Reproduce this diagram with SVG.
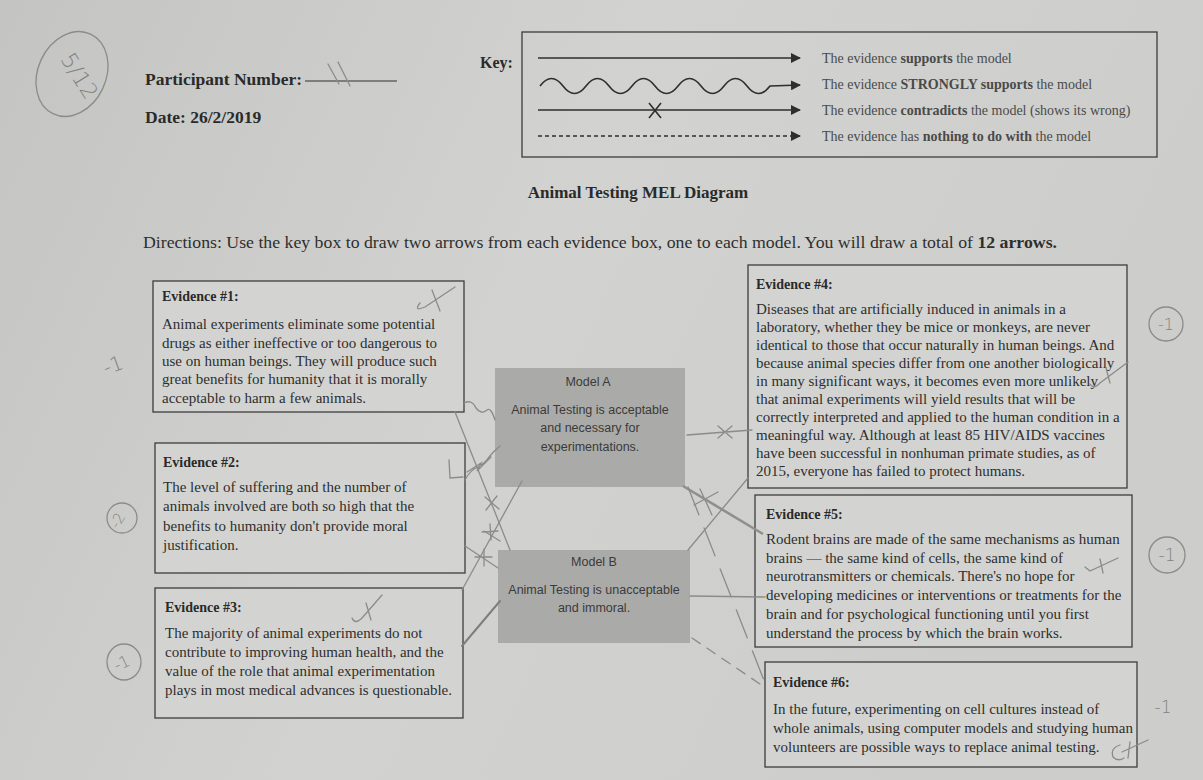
<svg xmlns="http://www.w3.org/2000/svg" width="1203" height="780" viewBox="0 0 1203 780">
<defs>
<linearGradient id="paper" x1="0" y1="0" x2="1" y2="0.3">
<stop offset="0" stop-color="#c4c5c2"/>
<stop offset="0.5" stop-color="#d2d3d0"/>
<stop offset="1" stop-color="#cdcecb"/>
</linearGradient>
<marker id="ah" viewBox="0 0 10 10" refX="9" refY="5" markerWidth="10" markerHeight="10" markerUnits="userSpaceOnUse" orient="auto">
<path d="M0,0 L10,5 L0,10 Z" fill="#2e2e2e"/>
</marker>
<style>
.hd{font-family:"Liberation Serif","Times New Roman",serif;font-weight:bold;fill:#2a2a2a}
.ser{font-family:"Liberation Serif","Times New Roman",serif;fill:#2e2e2e}
.key{font-family:"Liberation Serif","Times New Roman",serif;font-size:14px;fill:#4a4a4a}
.b{font-weight:bold}
.box{fill:#d3d4d1;stroke:#3c3c3c;stroke-width:1.3}
.et{font-family:"Liberation Serif","Times New Roman",serif;font-weight:bold;font-size:14px;fill:#2a2a2a}
.eb{font-family:"Liberation Serif","Times New Roman",serif;font-size:15px;fill:#2e2e2e}
.model{fill:#aaaba8}
.mt{font-family:"Liberation Sans",Arial,sans-serif;font-size:12.5px;fill:#3a3a3a;text-anchor:middle}
.kl{stroke:#2e2e2e;stroke-width:1.6;fill:none}
.pen{stroke:#8b8c8a;stroke-width:1.3;fill:none;stroke-linecap:round}
.pend{stroke:#7e7f7d;stroke-width:2;fill:none;stroke-linecap:round}
.hw{font-family:"DejaVu Sans",sans-serif;font-weight:200;fill:#808180}
</style>
</defs>
<rect width="1203" height="780" fill="url(#paper)"/>

<g id="header">
<ellipse cx="72" cy="74" rx="34" ry="44" transform="rotate(25 72 74)" class="pen"/>
<text class="hw" font-size="22" transform="translate(73 80) rotate(58)" text-anchor="middle">5/12</text>
<text class="hd" x="145" y="85" font-size="17.5">Participant Number:</text>
<line x1="305" y1="81" x2="397" y2="81" stroke="#2e2e2e" stroke-width="1"/>
<path class="pen" d="M328,64 L339,84 M338,62 L350,86"/>
<text class="hd" x="145" y="123" font-size="17.5">Date: 26/2/2019</text>
</g>

<g id="key">
<text class="hd" x="480" y="68" font-size="16">Key:</text>
<rect x="522" y="32" width="635" height="125" fill="none" stroke="#3c3c3c" stroke-width="1.3"/>
<line class="kl" x1="538" y1="58" x2="800" y2="58" marker-end="url(#ah)"/>
<path class="kl" d="M540,86 q11.5,-15 23,0 t23,0 t23,0 t23,0 t23,0 t23,0 t23,0 t23,0 t23,0 t23,0 L800,85" marker-end="url(#ah)"/>
<line class="kl" x1="538" y1="110" x2="800" y2="110" marker-end="url(#ah)"/>
<path class="kl" d="M649,103 L661,118 M661,103 L649,118"/>
<line class="kl" x1="538" y1="136" x2="800" y2="136" stroke-dasharray="4,3" stroke-width="1.3" marker-end="url(#ah)"/>
<text class="key" x="822" y="63">The evidence <tspan class="b">supports</tspan> the model</text>
<text class="key" x="822" y="89">The evidence <tspan class="b">STRONGLY supports</tspan> the model</text>
<text class="key" x="822" y="115">The evidence <tspan class="b">contradicts</tspan> the model (shows its wrong)</text>
<text class="key" x="822" y="141">The evidence has <tspan class="b">nothing to do with</tspan> the model</text>
</g>

<g id="title">
<text class="hd" x="638" y="198" font-size="17" text-anchor="middle">Animal Testing MEL Diagram</text>
<text class="ser" x="143" y="248" font-size="17.5" textLength="914" lengthAdjust="spacingAndGlyphs">Directions: Use the key box to draw two arrows from each evidence box, one to each model. You will draw a total of <tspan class="b">12 arrows.</tspan></text>
</g>

<g id="evidence1">
<rect class="box" x="153" y="281" width="311" height="131"/>
<text class="et" x="162" y="301">Evidence #1:</text>
<text class="eb" x="162" y="329">Animal experiments eliminate some potential</text>
<text class="eb" x="162" y="348">drugs as either ineffective or too dangerous to</text>
<text class="eb" x="162" y="366">use on human beings. They will produce such</text>
<text class="eb" x="162" y="384">great benefits for humanity that it is morally</text>
<text class="eb" x="162" y="403">acceptable to harm a few animals.</text>
</g>

<g id="evidence2">
<rect class="box" x="155" y="443" width="310" height="130"/>
<text class="et" x="163" y="467">Evidence #2:</text>
<text class="eb" x="163" y="492">The level of suffering and the number of</text>
<text class="eb" x="163" y="511">animals involved are both so high that the</text>
<text class="eb" x="163" y="531">benefits to humanity don't provide moral</text>
<text class="eb" x="163" y="550">justification.</text>
</g>

<g id="evidence3">
<rect class="box" x="155" y="588" width="308" height="130"/>
<text class="et" x="165" y="612">Evidence #3:</text>
<text class="eb" x="165" y="638">The majority of animal experiments do not</text>
<text class="eb" x="165" y="657">contribute to improving human health, and the</text>
<text class="eb" x="165" y="676">value of the role that animal experimentation</text>
<text class="eb" x="165" y="695">plays in most medical advances is questionable.</text>
</g>

<g id="modelA">
<rect class="model" x="495" y="368" width="190" height="119"/>
<text class="mt" x="588" y="386">Model A</text>
<text class="mt" x="590" y="414">Animal Testing is acceptable</text>
<text class="mt" x="590" y="432">and necessary for</text>
<text class="mt" x="590" y="451">experimentations.</text>
</g>

<g id="modelB">
<rect class="model" x="498" y="550" width="192" height="93" fill="#aeafac"/>
<text class="mt" x="594" y="566">Model B</text>
<text class="mt" x="594" y="594">Animal Testing is unacceptable</text>
<text class="mt" x="594" y="612">and immoral.</text>
</g>

<g id="evidence4">
<rect class="box" x="748" y="265" width="379" height="223"/>
<text class="et" x="756" y="289">Evidence #4:</text>
<text class="eb" font-size="14.2" x="756" y="314">Diseases that are artificially induced in animals in a</text>
<text class="eb" font-size="14.2" x="756" y="332">laboratory, whether they be mice or monkeys, are never</text>
<text class="eb" font-size="14.2" x="756" y="350">identical to those that occur naturally in human beings. And</text>
<text class="eb" font-size="14.2" x="756" y="368">because animal species differ from one another biologically</text>
<text class="eb" font-size="14.2" x="756" y="386">in many significant ways, it becomes even more unlikely</text>
<text class="eb" font-size="14.2" x="756" y="404">that animal experiments will yield results that will be</text>
<text class="eb" font-size="14.2" x="756" y="422">correctly interpreted and applied to the human condition in a</text>
<text class="eb" font-size="14.2" x="756" y="440">meaningful way. Although at least 85 HIV/AIDS vaccines</text>
<text class="eb" font-size="14.2" x="756" y="458">have been successful in nonhuman primate studies, as of</text>
<text class="eb" font-size="14.2" x="756" y="476">2015, everyone has failed to protect humans.</text>
</g>

<g id="evidence5">
<rect class="box" x="755" y="495" width="377" height="152"/>
<text class="et" x="766" y="519">Evidence #5:</text>
<text class="eb" font-size="14.6" x="766" y="544">Rodent brains are made of the same mechanisms as human</text>
<text class="eb" font-size="14.6" x="766" y="563">brains — the same kind of cells, the same kind of</text>
<text class="eb" font-size="14.6" x="766" y="581">neurotransmitters or chemicals. There's no hope for</text>
<text class="eb" font-size="14.6" x="766" y="600">developing medicines or interventions or treatments for the</text>
<text class="eb" font-size="14.6" x="766" y="619">brain and for psychological functioning until you first</text>
<text class="eb" font-size="14.6" x="766" y="638">understand the process by which the brain works.</text>
</g>

<g id="evidence6">
<rect class="box" x="765" y="662" width="372" height="105"/>
<text class="et" x="773" y="687">Evidence #6:</text>
<text class="eb" font-size="15.2" x="773" y="714">In the future, experimenting on cell cultures instead of</text>
<text class="eb" font-size="15.2" x="773" y="733">whole animals, using computer models and studying human</text>
<text class="eb" font-size="15.2" x="773" y="752">volunteers are possible ways to replace animal testing.</text>
</g>

<g id="connectors">
<path class="pen" d="M464,403 Q472,399 476,408 Q481,415 487,410 Q491,407 495,420"/>
<path class="pen" d="M455,412 L510,550"/>
<path class="pen" d="M485,497 L499,509 M486,510 L497,496 M482,532 L498,531 M490,524 L491,540"/>
<path class="pen" d="M465,480 Q470,470 478,467 Q485,463 489,457 Q494,451 500,446 M467,472 L481,463 L477,471 L491,457"/>
<path class="pen" d="M465,546 L498,568 M475,557 L492,557 M484,549 L484,566"/>
<path class="pen" d="M462,590 L522,481 M484,531 L500,541"/>
<path class="pend" d="M462,646 L500,601"/>
<path class="pen" d="M687,435 L752,430 M718,426 L732,438 M718,438 L732,426"/>
<path class="pen" d="M688,550 L748,478"/>
<path class="pen" d="M700,489 L712,515 M694,505 L718,492"/>
<path d="M683,486 L763,534" stroke="#8f908e" stroke-width="2.6" fill="none"/>
<path class="pen" d="M690,596 L765,597"/>
<path class="pen" d="M688,487 L765,683" stroke-dasharray="30,14"/>
<path class="pen" d="M692,638 L760,684" stroke-dasharray="10,8"/>
</g>

<g id="marks">
<path class="pen" d="M420,303 Q413,312 425,307 L455,287 M432,290 L440,311"/>
<path class="pen" d="M352,618 Q355,625 362,618 L382,595 M366,603 L371,620"/>
<path class="pen" d="M1090,384 Q1094,390 1100,383 L1128,362 M1106,368 L1110,383"/>
<path class="pen" d="M1085,567 L1090,571 L1118,558 M1100,559 L1103,573"/>
<path class="pen" d="M1120,745 Q1110,748 1113,757 Q1118,762 1124,758 M1128,758 L1130,742 M1122,752 L1148,740"/>
<path class="pen" d="M449,460 L450,478 L463,477"/>
<text class="hw" font-size="20" transform="translate(106 375) rotate(-20)">-1</text>
<circle class="pen" cx="122" cy="518" r="15"/>
<text class="hw" font-size="15" text-anchor="middle" transform="translate(122 523) rotate(-60)">-2</text>
<ellipse class="pen" cx="124" cy="662" rx="17" ry="18"/>
<text class="hw" font-size="16" text-anchor="middle" transform="translate(124 668) rotate(-25)">-1</text>
<circle class="pen" cx="1166" cy="324" r="17"/>
<text class="hw" font-size="16" text-anchor="middle" x="1166" y="330">-1</text>
<circle class="pen" cx="1167" cy="555" r="18"/>
<text class="hw" font-size="17" text-anchor="middle" x="1167" y="561">-1</text>
<text class="hw" font-size="17" text-anchor="middle" x="1163" y="713">-1</text>
</g>
</svg>
